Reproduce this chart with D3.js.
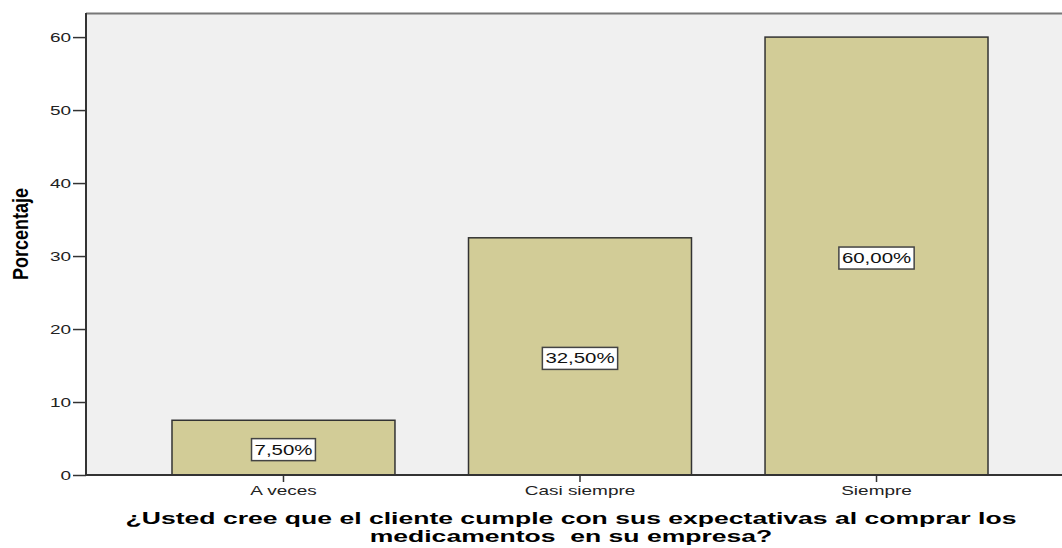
<!DOCTYPE html>
<html>
<head>
<meta charset="utf-8">
<script src="https://cdn.jsdelivr.net/npm/d3@7"></script>
<style>
  body { margin: 0; background: #fff; }
  svg { display: block; }
  .tick text { font-family: "Liberation Sans", Arial, sans-serif; font-size: 13px; fill: #222; }
</style>
</head>
<body>
<div id="chart"></div>
<script>
const categories = ["A veces", "Casi siempre", "Siempre"];
const percentages = [7.5, 32.5, 60];
const barLabels = ["7,50%", "32,50%", "60,00%"];
const yTicks = [0, 10, 20, 30, 40, 50, 60];

const width = 1062;
const height = 548;
const plotLeft = 86;
const plotRight = 1074; // the original chart is cut off on the right
const plotTop = 13;
const plotBottom = 475;
const sx = 1.46; // the original picture is stretched sideways, so is its text

const svg = d3.select('#chart')
    .append('svg')
        .attr('width', width)
        .attr('height', height);

const x = d3.scaleBand()
    .domain(categories)
    .range([plotLeft, plotRight])
    .paddingInner(0.248)
    .paddingOuter(0.29);

const y = d3.scaleLinear()
    .domain([0, 63.3])
    .range([plotBottom, plotTop]);

// plot background
svg.append('rect')
    .attr('x', plotLeft)
    .attr('y', plotTop)
    .attr('width', plotRight - plotLeft)
    .attr('height', plotBottom - plotTop)
    .attr('fill', '#f0f0f0');

// top border
svg.append('line')
    .attr('x1', plotLeft).attr('x2', plotRight)
    .attr('y1', plotTop + 0.5).attr('y2', plotTop + 0.5)
    .attr('stroke', '#777')
    .attr('stroke-width', 2);

// bars
svg.selectAll('rect.bar')
    .data(percentages)
    .join('rect')
        .attr('class', 'bar')
        .attr('x', (d, i) => x(categories[i]))
        .attr('y', d => y(d))
        .attr('width', x.bandwidth())
        .attr('height', d => y(0) - y(d))
        .attr('fill', '#d2cc97')
        .attr('stroke', '#333')
        .attr('stroke-width', 1.5);

// y axis
const yAxis = svg.append('g')
    .attr('transform', `translate(${plotLeft},0)`)
    .call(d3.axisLeft(y).tickValues(yTicks).tickSize(13).tickFormat(d3.format('d')));
yAxis.select('.domain').remove();
yAxis.selectAll('.tick line').attr('stroke', '#333').attr('stroke-width', 1.5);
yAxis.selectAll('.tick text')
    .attr('x', -15 / sx)
    .attr('transform', `scale(${sx},1)`);
yAxis.append('line')
    .attr('x1', 0).attr('x2', 0)
    .attr('y1', plotTop).attr('y2', plotBottom)
    .attr('stroke', '#333')
    .attr('stroke-width', 2);

// x axis
const xAxis = svg.append('g')
    .attr('transform', `translate(0,${plotBottom})`)
    .call(d3.axisBottom(x).tickSize(7).tickPadding(4));
xAxis.select('.domain').remove();
xAxis.selectAll('.tick line').attr('stroke', '#333').attr('stroke-width', 1.5);
xAxis.selectAll('.tick text').attr('transform', `scale(${sx},1)`);
xAxis.append('line')
    .attr('x1', plotLeft).attr('x2', plotRight)
    .attr('y1', 0).attr('y2', 0)
    .attr('stroke', '#333')
    .attr('stroke-width', 2);

// value labels in boxes
const labels = svg.selectAll('g.value-label')
    .data(percentages)
    .join('g')
        .attr('class', 'value-label')
        .attr('transform', (d, i) => `translate(${x(categories[i]) + x.bandwidth() / 2},${(y(d) + y(0)) / 2 + 2})`);

labels.append('text')
    .attr('text-anchor', 'middle')
    .attr('dy', '0.36em')
    .attr('transform', `scale(${sx},1)`)
    .attr('font-family', '"Liberation Sans", Arial, sans-serif')
    .attr('font-size', 14)
    .attr('fill', '#111')
    .text((d, i) => barLabels[i]);

labels.each(function () {
    const g = d3.select(this);
    const bb = g.select('text').node().getBBox();
    const w = bb.width * sx + 6;
    g.insert('rect', 'text')
        .attr('x', -w / 2)
        .attr('y', -11)
        .attr('width', w)
        .attr('height', 22)
        .attr('fill', '#fff')
        .attr('stroke', '#444')
        .attr('stroke-width', 1.5);
});

// y axis title
svg.append('text')
    .attr('transform', 'translate(28,234) scale(1.2,1) rotate(-90)')
    .attr('text-anchor', 'middle')
    .attr('font-family', '"Liberation Sans Narrow", "Liberation Sans", Arial, sans-serif')
    .attr('font-weight', 'bold')
    .attr('font-size', 18)
    .attr('fill', '#000')
    .text('Porcentaje');

// x axis title, two lines
const titleLines = [
    '¿Usted cree que el cliente cumple con sus expectativas al comprar los',
    'medicamentos  en su empresa?'
];
svg.selectAll('text.x-title')
    .data(titleLines)
    .join('text')
        .attr('class', 'x-title')
        .attr('transform', (d, i) => `translate(571,${524 + i * 18}) scale(1.66,1)`)
        .attr('text-anchor', 'middle')
        .attr('font-family', '"Liberation Sans", Arial, sans-serif')
        .attr('font-weight', 'bold')
        .attr('font-size', 16)
        .attr('fill', '#000')
        .style('white-space', 'pre')
        .text(d => d);
</script>
</body>
</html>
